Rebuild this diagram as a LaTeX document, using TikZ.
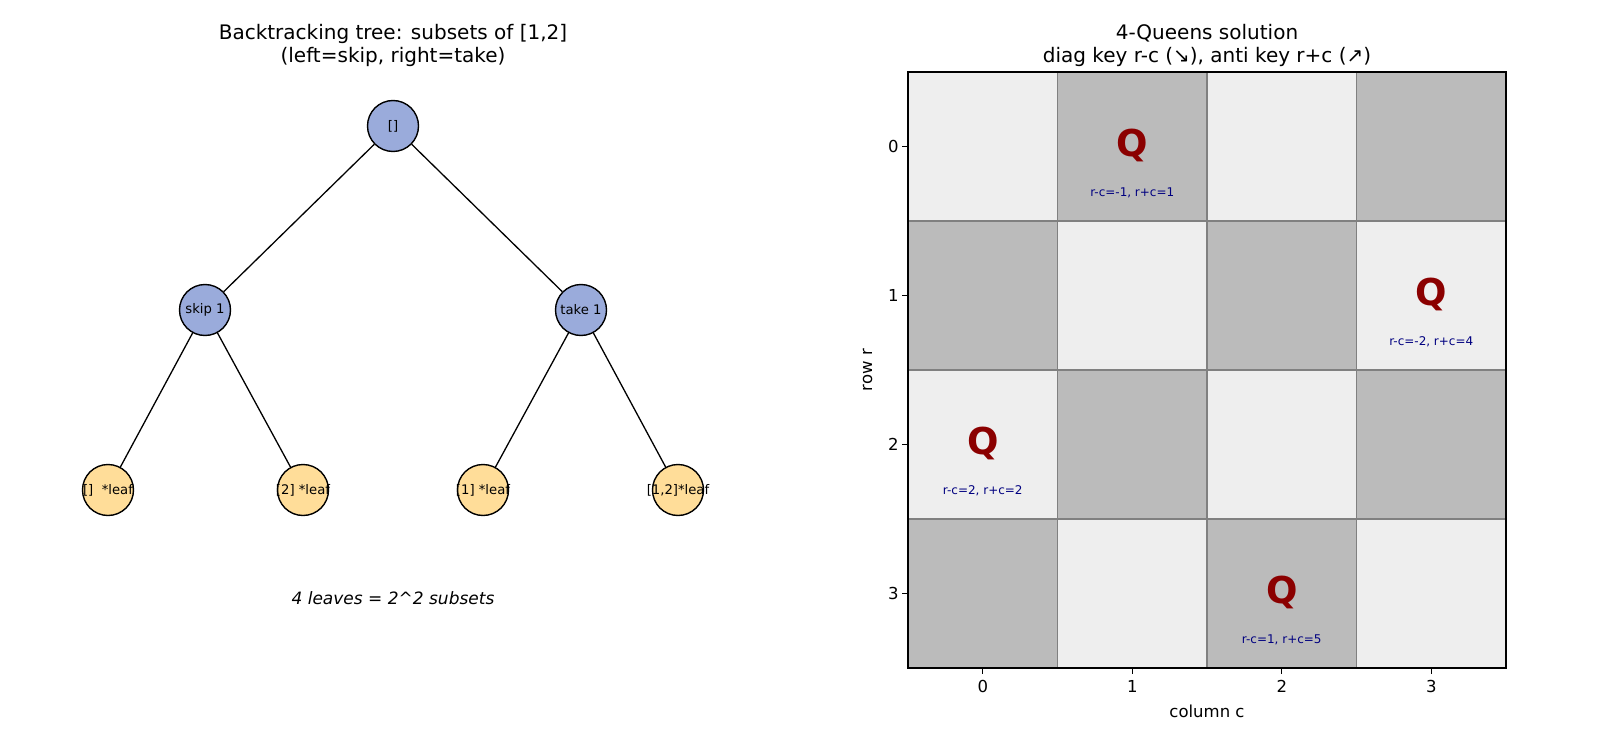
\documentclass[tikz,border=0pt]{standalone}
\usepackage{fontspec}
\setmainfont{DejaVu Sans}
\usepackage{tikz}
\usetikzlibrary{positioning}
\definecolor{treeBlue}{HTML}{9AABDB}
\definecolor{treeGold}{HTML}{FFDD99}
\definecolor{cellLight}{HTML}{EEEEEE}
\definecolor{cellDark}{HTML}{BBBBBB}
\definecolor{queenRed}{HTML}{8B0000}
\definecolor{keyNavy}{HTML}{000080}
\newcommand{\spill}[1]{\makebox[0pt]{#1}}
\begin{document}
\begin{tikzpicture}[
  x=1pt,y=-1pt,
  font=\fontsize{13.2}{15}\selectfont,
  inner/.style={circle,draw,line width=1.4pt,fill=treeBlue,minimum size=51pt,inner sep=0pt},
  leaf/.style={inner,fill=treeGold},
  edge/.style={line width=1.3pt},
  ttl/.style={font=\fontsize{20}{23}\selectfont,align=center},
  queen/.style={text=queenRed,font=\fontsize{37}{37}\selectfont\bfseries},
  dkey/.style={text=keyNavy,font=\fontsize{12}{14}\selectfont},
  tick/.style={font=\fontsize{16.5}{18}\selectfont}
]
\fill[white] (0,0) rectangle (1600,738);
\useasboundingbox (0,0) rectangle (1600,738);

% left panel: the tree
\node[ttl] (ltitle) at (393,45) {Backtracking tree: subsets of [1,2]\\(left=skip, right=take)};
\node[inner] (root) at (393,126) {[]};
\node[inner] (skip) at (205,310) {\spill{skip 1}};
\node[inner] (take) at (581,310) {\spill{take 1}};
\node[leaf]  (l0) at (108,490) {\spill{[]\ \ *leaf}};
\node[leaf]  (l2) at (303,490) {\spill{[2] *leaf}};
\node[leaf]  (l1) at (483,490) {\spill{[1] *leaf}};
\node[leaf]  (l12) at (678,490) {\spill{[1,2]*leaf}};
\draw[edge] (root) -- (skip);
\draw[edge] (root) -- (take);
\draw[edge] (skip) -- (l0);
\draw[edge] (skip) -- (l2);
\draw[edge] (take) -- (l1);
\draw[edge] (take) -- (l12);
\node[font=\fontsize{17}{19}\selectfont\itshape] (count) at (393,598) {4 leaves = 2\^{}2 subsets};

% right panel: the board
\node[ttl] (rtitle) at (1207,45) {4-Queens solution\\diag key r-c (↘), anti key r+c (↗)};
\begin{scope}[shift={(982.75,146.5)},x=149.5pt,y=-149pt]
  \foreach \r in {0,...,3}
    \foreach \c in {0,...,3}{
      \pgfmathsetmacro{\odd}{mod(\r+\c,2)}
      \ifdim\odd pt=0pt \def\cc{cellLight}\else \def\cc{cellDark}\fi
      \draw[fill=\cc,draw=gray,line width=1.3pt] (\c-0.5,\r-0.5) rectangle (\c+0.5,\r+0.5);
    }
  \draw[line width=1.5pt] (-0.5,-0.5) rectangle (3.5,3.5);
  \foreach \k in {0,...,3}{
    \draw[line width=1.2pt] (\k,3.5) -- ++(0,-6pt);
    \node[tick,below] (xt\k) at (\k,3.56) {\k};
    \draw[line width=1.2pt] (-0.5,\k) -- ++(-6pt,0);
    \node[tick,left] (yt\k) at (-0.54,\k) {\k};
  }
  \foreach \r/\c/\d/\s in {0/1/-1/1,1/3/-2/4,2/0/2/2,3/2/1/5}{
    \node[queen] (q\r) at (\c,\r-0.01) {Q};
    \node[dkey] (k\r) at (\c,\r+0.31) {r-c=\d, r+c=\s};
  }
  \node[tick,rotate=90] (ylab) at (-0.77,1.5) {row r};
  \node[tick] (xlab) at (1.5,3.79) {column c};
\end{scope}
\end{tikzpicture}
\end{document}
